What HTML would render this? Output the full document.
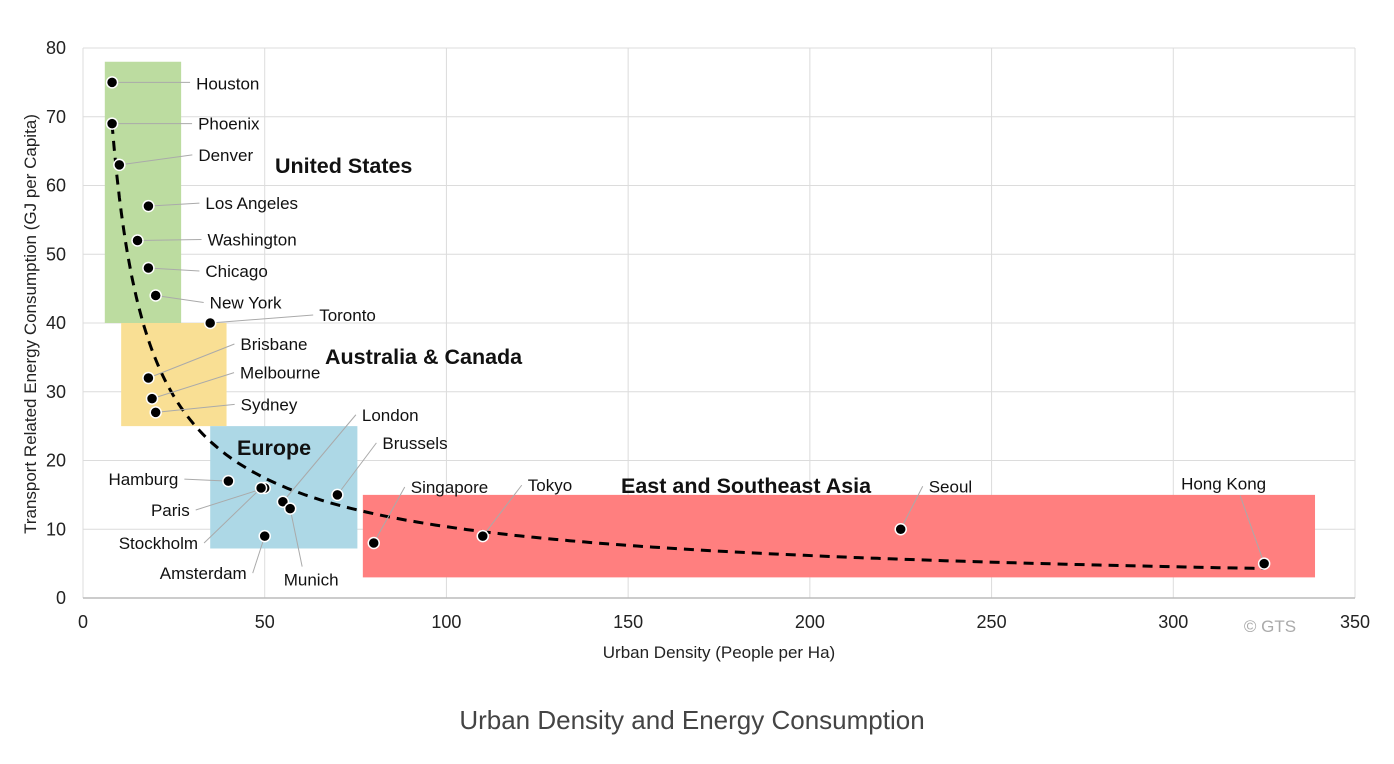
<!DOCTYPE html>
<html><head><meta charset="utf-8"><style>
html,body{margin:0;padding:0;background:#fff;}
svg{display:block;font-family:"Liberation Sans Narrow","Liberation Sans",sans-serif;}
</style></head><body>
<svg id="chart" width="1394" height="764" xmlns="http://www.w3.org/2000/svg">
<g id="grid"></g>
<g id="boxes"></g>
<g id="trend"></g>
<g id="leaders"></g>
<g id="points"></g>
<g id="labels"></g>
<g id="axes"></g>
<text x="0" y="0" transform="translate(36,324) rotate(-90)" text-anchor="middle" font-size="17" fill="#222">Transport Related Energy Consumption (GJ per Capita)</text>
<text x="719" y="658" text-anchor="middle" font-size="17" fill="#222">Urban Density (People per Ha)</text>
<text x="1270" y="632" text-anchor="middle" font-size="17" fill="#aaa" font-family="Liberation Sans, sans-serif">© GTS</text>
<text x="692" y="729" text-anchor="middle" font-size="26" fill="#444" font-family="Liberation Sans, sans-serif">Urban Density and Energy Consumption</text>
</svg>
<script>
const xTicks=[0,50,100,150,200,250,300,350];
const yTicks=[0,10,20,30,40,50,60,70,80];
const cities=["Houston","Phoenix","Denver","Los Angeles","Washington","Chicago","New York","Toronto","Brisbane","Melbourne","Sydney","Hamburg","Paris","Stockholm","Amsterdam","London","Munich","Brussels","Singapore","Tokyo","Seoul","Hong Kong"];
const densities=[8,8,10,18,15,18,20,35,18,19,20,40,50,49,50,55,57,70,80,110,225,325];
const energies=[75,69,63,57,52,48,44,40,32,29,27,17,16,16,9,14,13,15,8,9,10,5];
const regions=["United States","Australia & Canada","Europe","East and Southeast Asia"];
const regionX0=[6,10.5,35,77];
const regionX1=[27,39.5,75.5,339];
const regionY0=[40,25,7.2,3];
const regionY1=[78,40,25,15];
const regionColors=["#bcdca0","#f9df94","#add8e6","#ff7f7f"];
const trendA=328, trendB=0.75, trendXmin=8, trendXmax=325;
const labelOff=[[84,1,"start",78,0],[86,0,"start",80,0],[79,-10,"start",73,-10],[57,-3,"start",51,-3],[70,-1,"start",64,-1],[57,3,"start",51,3],[54,7,"start",48,7],[109,-8,"start",103,-8],[92,-34,"start",86,-34],[88,-26,"start",82,-26],[85,-8,"start",79,-8],[-50,-2,"end",-44,-2],[-75,22,"end",-69,22],[-63,55,"end",-57,55],[-18,37,"end",-12,37],[79,-87,"start",73,-87],[21,71,"middle",12,58],[45,-52,"start",39,-52],[37,-56,"start",31,-56],[45,-51,"start",39,-51],[28,-43,"start",22,-43],[2,-80,"end",-24,-68]];
const regionLabelPos=[[275,165],[325,356],[237,447],[621,485]];

const L=83,R=1355,T=48,B=598;
const xs=v=>L+(v-0)/(350-0)*(R-L);
const ys=v=>B-(v-0)/(80-0)*(B-T);
const NS="http://www.w3.org/2000/svg";
function mk(tag,parent,attrs){const e=document.createElementNS(NS,tag);for(const k in attrs)e.setAttribute(k,attrs[k]);document.getElementById(parent).appendChild(e);return e;}

xTicks.forEach(t=>{const l=mk("line","grid",{x1:xs(t),x2:xs(t),y1:T,y2:B,stroke:"#dcdcdc","stroke-width":1});


const tx=mk("text","axes",{x:xs(t),y:628,"text-anchor":"middle","font-size":18,fill:"#222"});tx.textContent=t;

});
yTicks.forEach(t=>{const l=mk("line","grid",{x1:L,x2:R,y1:ys(t),y2:ys(t),stroke:"#dcdcdc","stroke-width":1});


const tx=mk("text","axes",{x:66,y:ys(t)+6,"text-anchor":"end","font-size":18,fill:"#222"});tx.textContent=t;

});
const ax=mk("line","axes",{x1:L,x2:R,y1:B,y2:B,stroke:"#bbb","stroke-width":1.5});



regions.forEach((r,i)=>{const x0=xs(regionX0[i]),x1=xs(regionX1[i]),y0=ys(regionY1[i]),y1=ys(regionY0[i]);
const rc=mk("rect","boxes",{x:x0,y:y0,width:x1-x0,height:y1-y0,fill:regionColors[i]});


const t=mk("text","labels",{x:regionLabelPos[i][0],y:regionLabelPos[i][1]+8,"font-size":21.5,"font-weight":"bold",fill:"#111"});t.textContent=r;

});

let d="";for(let k=0;k<=200;k++){const x=trendXmin+(trendXmax-trendXmin)*Math.pow(k/200,2);d+=(k?"L":"M")+xs(x).toFixed(1)+","+ys(trendA*Math.pow(x,-trendB)).toFixed(1);}
const tp=mk("path","trend",{d:d,fill:"none",stroke:"#000","stroke-width":3,"stroke-dasharray":"10,7"});



cities.forEach((c,i)=>{const px=xs(densities[i]),py=ys(energies[i]);const o=labelOff[i];
const ln=mk("line","leaders",{x1:px,y1:py,x2:px+o[3],y2:py+o[4],stroke:"#aaa","stroke-width":1});


const ci=mk("circle","points",{cx:px,cy:py,r:5.5,fill:"#000",stroke:"#fff","stroke-width":1.5});


const t=mk("text","labels",{x:px+o[0],y:py+o[1]+6,"text-anchor":o[2],"font-size":17,fill:"#111"});t.textContent=c;

});
</script>
</body></html>
